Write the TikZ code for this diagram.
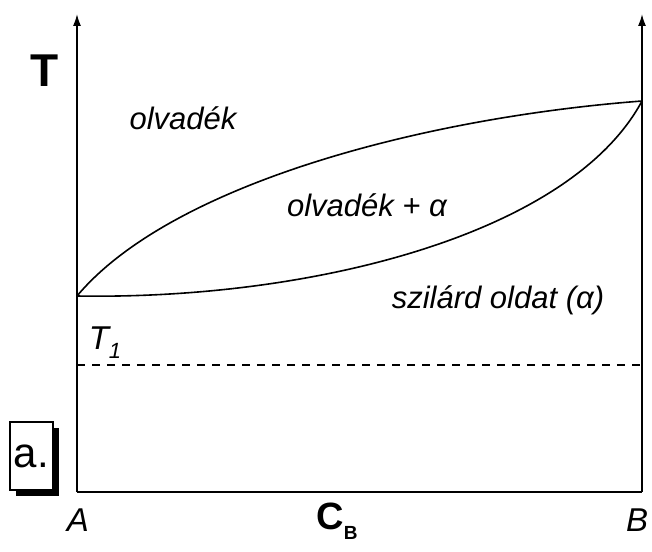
\documentclass[tikz,border=0pt]{standalone}
\usepackage{fontspec}
\setmainfont{Liberation Sans}
\usetikzlibrary{arrows.meta, positioning, shadows}

\begin{document}
\begin{tikzpicture}[x=1pt, y=-1pt,
          label/.style = {font=\fontsize{31}{34}\selectfont\itshape, inner sep=0pt},
          corner/.style = {font=\fontsize{33}{36}\selectfont\itshape, inner sep=0pt},
          axis/.style = {line width=1.6pt, -{Latex[length=12pt, width=8pt]}},
          curve/.style = {line width=1.6pt}]
        \useasboundingbox (0,0) rectangle (652,551);
        % axes and frame
        \coordinate (A0) at (77,492);
        \coordinate (B0) at (642,492);
        \coordinate (TA) at (77,296);
        \coordinate (TB) at (642,101);
        \draw[axis] (A0) -- (77,14);
        \draw[axis] (B0) -- (642,14);
        \draw[curve] (A0) -- (B0);
        % liquidus and solidus
        \draw[curve] (TA) .. controls (170,185) and (420,118) .. (TB);
        \draw[curve] (TA) .. controls (310,300) and (570,235) .. (TB);
        % isotherm T1
        \draw[line width=1.2pt, dash pattern=on 8pt off 7pt] (77,365) -- (642,365);
        % labels
        \node[font=\fontsize{46}{48}\selectfont\bfseries, inner sep=0pt] (T) at (45,71) {T};
        \node[label] (liq) at (183,118) {olvadék};
        \node[label] (mix) at (367,205) {olvadék + α};
        \node[label] (sol) at (498,300) {szilárd oldat (α)};
        \node[corner] (T1) at (105,343) {T\raisebox{-9pt}{\fontsize{22}{24}\selectfont 1}};
        \node[corner] (A) at (78,520) {A};
        \node[corner] (B) at (637,520) {B};
        \node[font=\fontsize{38}{40}\selectfont\bfseries, inner sep=0pt] (CB) at (337,521) {C\raisebox{-10pt}{\fontsize{19}{21}\selectfont B}};
        \node[draw, line width=1.4pt, fill=white, minimum width=43pt, minimum height=68pt,
              inner sep=0pt, font=\fontsize{42}{44}\selectfont,
              drop shadow={shadow xshift=6pt, shadow yshift=-6pt, opacity=1, fill=black}] (tag) at (31.5,456) {a.};
      \end{tikzpicture}
\end{document}
